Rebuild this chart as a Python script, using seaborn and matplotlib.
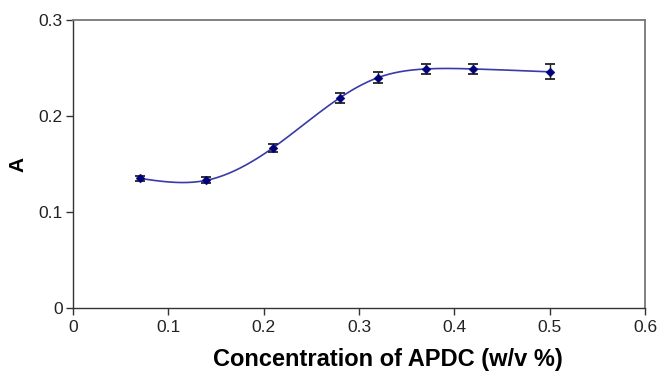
import numpy as np
import pandas as pd
import matplotlib
matplotlib.use("Agg")
import matplotlib.pyplot as plt
import seaborn as sns

conc = [0.07, 0.14, 0.21, 0.28, 0.32, 0.37, 0.42, 0.50]
absorb = [0.135, 0.133, 0.167, 0.219, 0.240, 0.249, 0.249, 0.246]
err = [0.003, 0.003, 0.004, 0.005, 0.006, 0.0055, 0.0055, 0.0078]
xticks = [0, 0.1, 0.2, 0.3, 0.4, 0.5, 0.6]
yticks = [0, 0.1, 0.2, 0.3]
xtick_labels = ["0", "0.1", "0.2", "0.3", "0.4", "0.5", "0.6"]
ytick_labels = ["0", "0.1", "0.2", "0.3"]


def natural_spline(x, y, n=300):
    x = np.asarray(x, float)
    y = np.asarray(y, float)
    k = len(x)
    h = np.diff(x)
    A = np.zeros((k, k))
    b = np.zeros(k)
    A[0, 0] = 1
    A[-1, -1] = 1
    for i in range(1, k - 1):
        A[i, i - 1] = h[i - 1]
        A[i, i] = 2 * (h[i - 1] + h[i])
        A[i, i + 1] = h[i]
        b[i] = 6 * ((y[i + 1] - y[i]) / h[i] - (y[i] - y[i - 1]) / h[i - 1])
    M = np.linalg.solve(A, b)
    xs = np.linspace(x[0], x[-1], n)
    idx = np.clip(np.searchsorted(x, xs) - 1, 0, k - 2)
    x0, x1 = x[idx], x[idx + 1]
    hh = x1 - x0
    t0 = x1 - xs
    t1 = xs - x0
    ys = (M[idx] * t0 ** 3 / (6 * hh) + M[idx + 1] * t1 ** 3 / (6 * hh)
          + (y[idx] / hh - M[idx] * hh / 6) * t0
          + (y[idx + 1] / hh - M[idx + 1] * hh / 6) * t1)
    return xs, ys


sns.set_style("white")
plt.rcParams["font.family"] = ["Liberation Sans", "DejaVu Sans"]

fig = plt.figure(figsize=(6.61, 3.73), dpi=100)
ax = fig.add_axes([0.1104, 0.1743, 0.8654, 0.7721])

xs, ys = natural_spline(conc, absorb)
curve = pd.DataFrame({"x": xs, "y": ys})
pts = pd.DataFrame({"x": conc, "y": absorb})

sns.lineplot(data=curve, x="x", y="y", ax=ax, color="#3a3aa8", linewidth=1.2, sort=False)
ax.errorbar(conc, absorb, yerr=err, fmt="none", ecolor="#222222", elinewidth=1.0,
            capsize=3.8, capthick=1.3, zorder=3)
sns.scatterplot(data=pts, x="x", y="y", ax=ax, marker="D", s=20, color="#00007a",
                edgecolor="#00007a", zorder=4)

ax.set_xlim(0, 0.6)
ax.set_ylim(0, 0.3)
ax.set_xticks(xticks)
ax.set_xticklabels(xtick_labels)
ax.set_yticks(yticks)
ax.set_yticklabels(ytick_labels)
ax.tick_params(axis="both", direction="out", length=5, width=1, color="#333333",
               labelsize=12.5, labelcolor="#222222", bottom=True, left=True)
ax.tick_params(axis="x", pad=4)
ax.tick_params(axis="y", pad=2.5)
for side, sp in ax.spines.items():
    sp.set_visible(True)
    if side in ("top", "right"):
        sp.set_color("#777777")
        sp.set_linewidth(1.3)
    else:
        sp.set_color("#333333")
        sp.set_linewidth(1.0)

ax.set_xlabel("Concentration of APDC (w/v %)", fontsize=17, fontweight="bold",
              color="black")
ax.xaxis.set_label_coords(0.551, -0.14)
ax.xaxis.label.set_verticalalignment("top")
ax.set_ylabel("A", fontsize=15, fontweight="bold", labelpad=8, color="black")

fig.savefig("out.png", dpi=100)
